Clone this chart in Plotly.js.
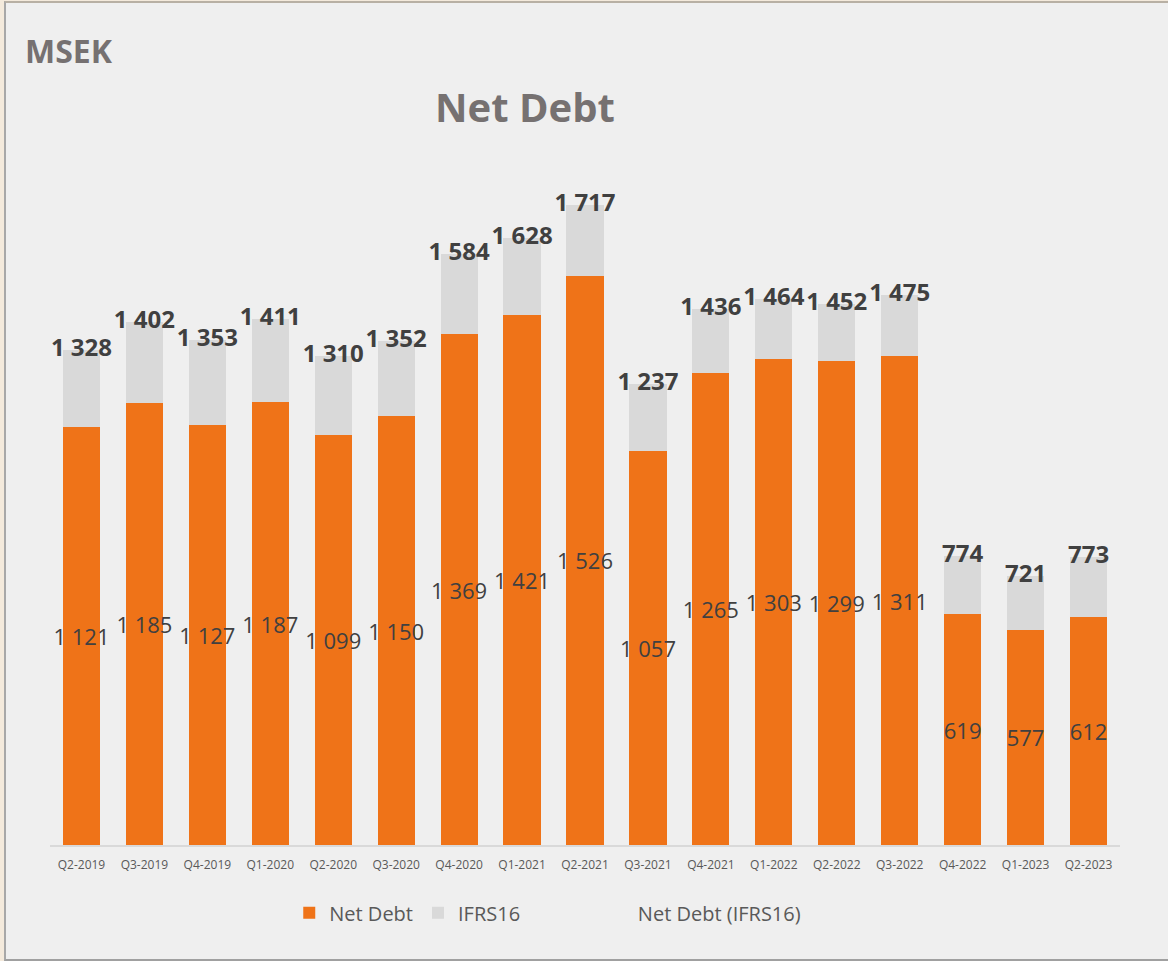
<!DOCTYPE html>
<html>
<head>
<meta charset="utf-8">
<script src="https://cdn.plot.ly/plotly-3.0.1.min.js"></script>
<style>
  html, body { margin: 0; padding: 0; background: #f4eadc; }
  #frame { position: absolute; left: 4px; top: 1px; width: 1164px; height: 956px;
           border-left: 2px solid #a8a8a8; border-top: 2px solid #b8b0a4; border-bottom: 2px solid #a0a0a0;
           background: #efefef; }
  #chart { width: 1162px; height: 954px; }
</style>
</head>
<body>
<div id="frame"><div id="chart"></div></div>
<script>
const quarters = ['Q2-2019','Q3-2019','Q4-2019','Q1-2020','Q2-2020','Q3-2020','Q4-2020','Q1-2021','Q2-2021',
                  'Q3-2021','Q4-2021','Q1-2022','Q2-2022','Q3-2022','Q4-2022','Q1-2023','Q2-2023'];
const netDebt = [1121,1185,1127,1187,1099,1150,1369,1421,1526,1057,1265,1303,1299,1311,619,577,612];
const ifrs16  = [207,217,226,224,211,202,215,207,191,180,171,161,153,164,155,144,161];
const netDebtIFRS16 = [1328,1402,1353,1411,1310,1352,1584,1628,1717,1237,1436,1464,1452,1475,774,721,773];

const font = 'Open Sans, Noto Sans, sans-serif';

const traces = [
  {
    type: 'bar', name: 'Net Debt', x: quarters, y: netDebt,
    marker: { color: '#ef7318' },
    texttemplate: '%{y:,}', textposition: 'inside', insidetextanchor: 'middle',
    constraintext: 'none', textangle: 0,
    insidetextfont: { family: font, size: 22, color: '#404040' },
    hoverinfo: 'skip', legend: 'legend'
  },
  {
    type: 'bar', name: 'IFRS16', x: quarters, y: ifrs16,
    marker: { color: '#d9d9d9' },
    hoverinfo: 'skip', legend: 'legend'
  },
  {
    type: 'scatter', mode: 'lines+text', name: 'Net Debt (IFRS16)', x: quarters, y: netDebtIFRS16,
    line: { color: 'rgba(0,0,0,0)', width: 0 },
    texttemplate: '%{y:,}', textposition: 'middle center',
    textfont: { family: font, size: 24, color: '#404040', weight: 'bold' },
    cliponaxis: false, hoverinfo: 'skip', legend: 'legend2'
  }
];

const legendFont = { family: font, size: 20, color: '#595959' };

const layout = {
  width: 1162, height: 954,
  paper_bgcolor: '#efefef', plot_bgcolor: '#efefef',
  separators: ', ',
  barmode: 'stack', bargap: 0.41,
  margin: { l: 43.5, r: 47.5, t: 120, b: 112 },
  font: { family: font, color: '#595959' },
  title: {
    text: '<b>Net Debt</b>', xref: 'container', yref: 'container',
    x: 0.4466, xanchor: 'center', y: 0.89, yanchor: 'middle',
    font: { family: font, size: 40, color: '#767171' }
  },
  xaxis: {
    type: 'category', range: [-0.5, 16.5], autorange: false,
    showgrid: false, zeroline: false,
    showline: true, linecolor: '#d9d9d9', linewidth: 2,
    ticks: '', ticklabelstandoff: 8,
    tickfont: { family: font, size: 12, color: '#595959' }
  },
  yaxis: {
    range: [0, 1936], visible: false, showgrid: false, zeroline: false, fixedrange: true
  },
  showlegend: true,
  legend: {
    orientation: 'h', x: 0.2236, xanchor: 'left', y: -0.094, yanchor: 'middle',
    font: legendFont, bgcolor: 'rgba(0,0,0,0)', traceorder: 'normal',
    itemclick: false, itemdoubleclick: false
  },
  legend2: {
    orientation: 'h', x: 0.512, xanchor: 'left', y: -0.094, yanchor: 'middle',
    font: legendFont, bgcolor: 'rgba(0,0,0,0)',
    itemclick: false, itemdoubleclick: false
  },
  annotations: [
    {
      text: '<b>MSEK</b>', xref: 'paper', yref: 'paper', x: -0.0257, xanchor: 'left',
      y: 1.101, yanchor: 'middle', showarrow: false,
      font: { family: font, size: 32, color: '#767171' }
    }
  ],
  hovermode: false
};

Plotly.newPlot('chart', traces, layout, { displayModeBar: false, staticPlot: true });
</script>
</body>
</html>
